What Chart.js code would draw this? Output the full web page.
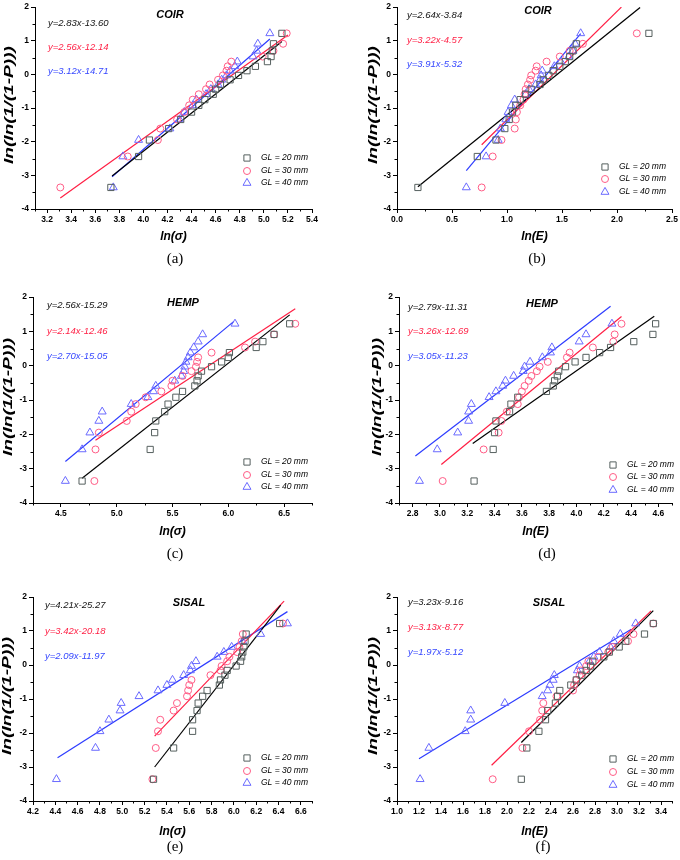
<!DOCTYPE html>
<html lang="en">
<head>
<meta charset="UTF-8">
<title>Weibull plots</title>
<script src="https://cdn.jsdelivr.net/npm/chart.js@4.4.1/dist/chart.umd.min.js"></script>
<style>
  body { margin: 0; background: #fff; }
  #wrap { position: relative; width: 680px; height: 860px; }
  canvas { position: absolute; }
  .cap { position: absolute; font-family: "Liberation Serif", "Times New Roman", serif; font-size: 15px; line-height: 18px; transform: translateX(-50%); }
</style>
</head>
<body>
<div id="wrap"></div>
<script>
// ln(ln(1/(1-P))) levels, shared by every series (20 specimens each)
const yRank = [-3.36, -2.44, -1.95, -1.61, -1.34, -1.12, -0.92, -0.75, -0.59, -0.44,
               -0.30, -0.16, -0.03, 0.11, 0.24, 0.38, 0.53, 0.70, 0.91, 1.22];
const seriesNames = ['GL = 20 mm', 'GL = 30 mm', 'GL = 40 mm'];
const yTicks = [-4, -3, -2, -1, 0, 1, 2];
const yTitle = 'ln(ln(1/(1-P)))';

// (a) COIR, ln(sigma)
const coirS20 = [3.73, 3.96, 4.05, 4.21, 4.31, 4.40, 4.46, 4.51, 4.58, 4.60, 4.64, 4.72, 4.79, 4.86, 4.93, 5.03, 5.06, 5.07, 5.08, 5.15];
const coirS30 = [3.31, 3.87, 4.12, 4.14, 4.28, 4.34, 4.38, 4.41, 4.46, 4.52, 4.55, 4.62, 4.66, 4.69, 4.70, 4.73, 4.99, 5.08, 5.16, 5.19];
const coirS40 = [3.75, 3.83, 3.96, 4.22, 4.30, 4.34, 4.41, 4.44, 4.52, 4.56, 4.62, 4.65, 4.69, 4.72, 4.76, 4.78, 4.91, 4.94, 4.95, 5.05];
const fitsA = [[[3.74, -3.02], [5.15, 0.98]], [[3.31, -3.67], [5.20, 1.17]], [[3.74, -3.04], [5.05, 1.05]]];
const eqA = ['y=2.83x-13.60', 'y=2.56x-12.14', 'y=3.12x-14.71'];
const ticksA = [3.2, 3.4, 3.6, 3.8, 4.0, 4.2, 4.4, 4.6, 4.8, 5.0, 5.2, 5.4];

// (b) COIR, ln(E)
const coirE20 = [0.19, 0.73, 0.90, 0.98, 1.02, 1.05, 1.08, 1.12, 1.17, 1.22, 1.30, 1.33, 1.38, 1.42, 1.48, 1.53, 1.57, 1.60, 1.63, 2.29];
const coirE30 = [0.77, 0.87, 0.95, 1.07, 1.08, 1.09, 1.12, 1.15, 1.16, 1.17, 1.19, 1.21, 1.22, 1.26, 1.27, 1.36, 1.48, 1.57, 1.69, 2.18];
const coirE40 = [0.63, 0.81, 0.92, 0.94, 0.99, 1.01, 1.04, 1.07, 1.17, 1.20, 1.26, 1.30, 1.31, 1.32, 1.43, 1.49, 1.56, 1.60, 1.62, 1.67];
const fitsB = [[[0.19, -3.34], [2.21, 1.99]], [[0.77, -2.09], [2.04, 2.00]], [[0.63, -2.86], [1.67, 1.21]]];
const eqB = ['y=2.64x-3.84', 'y=3.22x-4.57', 'y=3.91x-5.32'];
const ticksB = [0.0, 0.5, 1.0, 1.5, 2.0, 2.5];

// (c) HEMP, ln(sigma)
const hempS20 = [4.69, 5.30, 5.34, 5.35, 5.43, 5.46, 5.53, 5.59, 5.70, 5.72, 5.73, 5.76, 5.85, 5.94, 6.00, 6.01, 6.25, 6.31, 6.41, 6.55];
const hempS30 = [4.80, 4.81, 4.84, 5.09, 5.13, 5.17, 5.26, 5.40, 5.49, 5.50, 5.59, 5.67, 5.71, 5.72, 5.73, 5.85, 6.15, 6.24, 6.41, 6.60];
const hempS40 = [4.54, 4.69, 4.76, 4.84, 4.87, 5.13, 5.28, 5.33, 5.35, 5.52, 5.58, 5.60, 5.61, 5.62, 5.64, 5.66, 5.69, 5.73, 5.77, 6.06];
const fitsC = [[[4.69, -3.28], [6.55, 1.48]], [[4.81, -2.17], [6.60, 1.66]], [[4.54, -2.79], [6.05, 1.29]]];
const eqC = ['y=2.56x-15.29', 'y=2.14x-12.46', 'y=2.70x-15.05'];
const ticksC = [4.5, 5.0, 5.5, 6.0, 6.5];

// (d) HEMP, ln(E)
const hempE20 = [3.25, 3.39, 3.40, 3.41, 3.51, 3.52, 3.57, 3.78, 3.83, 3.84, 3.86, 3.87, 3.92, 3.99, 4.07, 4.17, 4.25, 4.42, 4.56, 4.58];
const hempE30 = [3.02, 3.32, 3.43, 3.45, 3.49, 3.57, 3.58, 3.60, 3.62, 3.65, 3.67, 3.71, 3.73, 3.79, 3.93, 3.95, 4.12, 4.27, 4.28, 4.33];
const hempE40 = [2.85, 2.98, 3.13, 3.21, 3.21, 3.23, 3.36, 3.41, 3.46, 3.48, 3.54, 3.61, 3.62, 3.66, 3.75, 3.81, 3.82, 4.02, 4.07, 4.26];
const fitsD = [[[3.24, -2.27], [4.57, 1.44]], [[3.01, -2.88], [4.33, 1.43]], [[2.82, -2.63], [4.25, 1.73]]];
const eqD = ['y=2.79x-11.31', 'y=3.26x-12.69', 'y=3.05x-11.23'];
const ticksD = [2.8, 3.0, 3.2, 3.4, 3.6, 3.8, 4.0, 4.2, 4.4, 4.6];

// (e) SISAL, ln(sigma)
const sisalS20 = [5.28, 5.46, 5.63, 5.63, 5.67, 5.68, 5.72, 5.76, 5.87, 5.88, 5.92, 5.94, 6.02, 6.06, 6.07, 6.08, 6.09, 6.10, 6.11, 6.41];
const sisalS30 = [5.27, 5.30, 5.32, 5.34, 5.46, 5.49, 5.58, 5.59, 5.60, 5.62, 5.79, 5.88, 5.89, 5.94, 5.96, 6.03, 6.05, 6.07, 6.08, 6.44];
const sisalS40 = [4.41, 4.76, 4.80, 4.88, 4.98, 4.99, 5.15, 5.32, 5.40, 5.45, 5.55, 5.61, 5.62, 5.66, 5.85, 5.91, 5.98, 6.08, 6.24, 6.48];
const fitsE = [[[5.29, -3.00], [6.42, 1.76]], [[5.29, -2.09], [6.45, 1.88]], [[4.42, -2.73], [6.48, 1.57]]];
const eqE = ['y=4.21x-25.27', 'y=3.42x-20.18', 'y=2.09x-11.97'];
const ticksE = [4.2, 4.4, 4.6, 4.8, 5.0, 5.2, 5.4, 5.6, 5.8, 6.0, 6.2, 6.4, 6.6];

// (f) SISAL, ln(E)
const sisalE20 = [2.13, 2.18, 2.29, 2.35, 2.37, 2.44, 2.46, 2.48, 2.58, 2.63, 2.68, 2.72, 2.76, 2.78, 2.88, 2.93, 3.02, 3.08, 3.25, 3.33];
const sisalE30 = [1.87, 2.14, 2.20, 2.30, 2.32, 2.33, 2.45, 2.60, 2.61, 2.63, 2.66, 2.67, 2.72, 2.74, 2.83, 2.92, 2.96, 3.10, 3.15, 3.33];
const sisalE40 = [1.21, 1.29, 1.62, 1.67, 1.67, 1.98, 2.32, 2.37, 2.39, 2.42, 2.43, 2.64, 2.66, 2.75, 2.79, 2.84, 2.94, 2.97, 3.03, 3.17];
const fitsF = [[[2.13, -2.28], [3.33, 1.60]], [[1.86, -2.95], [3.31, 1.59]], [[1.20, -2.76], [3.13, 1.05]]];
const eqF = ['y=3.23x-9.16', 'y=3.13x-8.77', 'y=1.97x-5.12'];
const ticksF = [1.0, 1.2, 1.4, 1.6, 1.8, 2.0, 2.2, 2.4, 2.6, 2.8, 3.0, 3.2, 3.4];

const FONT = '"Liberation Sans", Arial, Helvetica, sans-serif';
const markerStyles = ['rect', 'circle', 'triangle'];
const markerRadius = [4.4, 3.5, 4.6];
const markerColors = ['#56605f', '#ff5c86', '#6a6aff'];
const lineColors = ['#000000', '#ff1f44', '#2d3cff'];
const eqColors = ['#111111', '#ff1f44', '#3547ff'];

// layout of each panel (canvas-local pixels)
const panels = [
  {x: 0, y: 0, w: 340, h: 285, area: [35, 312, 5, 209], xr: [3.1, 5.4], ticks: ticksA, minor: 0.1,
   xTitle: 'ln(σ)', name: 'COIR', series: [coirS20, coirS30, coirS40], fits: fitsA, eq: eqA,
   yTitleX: 9, xTitleY: 237, eqX: 48, eqY: [23, 47, 71], nameXY: [170, 15], legX: 247, legY: [158, 171, 183], cap: '(a)', capXY: [175, 258]},
  {x: 340, y: 0, w: 340, h: 285, area: [57, 332, 5, 209], xr: [0, 2.5], ticks: ticksB, minor: 0.25,
   xTitle: 'ln(E)', name: 'COIR', series: [coirE20, coirE30, coirE40], fits: fitsB, eq: eqB,
   yTitleX: 33, xTitleY: 237, eqX: 67, eqY: [15, 40, 64], nameXY: [198, 11], legX: 265, legY: [167, 179, 192], cap: '(b)', capXY: [197, 258]},
  {x: 0, y: 285, w: 340, h: 285, area: [33, 312, 12, 218], xr: [4.25, 6.75], ticks: ticksC, minor: 0.25,
   xTitle: 'ln(σ)', name: 'HEMP', series: [hempS20, hempS30, hempS40], fits: fitsC, eq: eqC,
   yTitleX: 8, xTitleY: 247, eqX: 47, eqY: [20, 46, 71], nameXY: [183, 18], legX: 247, legY: [177, 190, 202], cap: '(c)', capXY: [175, 268]},
  {x: 340, y: 285, w: 340, h: 285, area: [59, 332, 12, 218], xr: [2.7, 4.7], ticks: ticksD, minor: 0.1,
   xTitle: 'ln(E)', name: 'HEMP', series: [hempE20, hempE30, hempE40], fits: fitsD, eq: eqD,
   yTitleX: 37, xTitleY: 247, eqX: 68, eqY: [22, 46, 71], nameXY: [202, 19], legX: 273, legY: [180, 192, 205], cap: '(d)', capXY: [207, 268]},
  {x: 0, y: 570, w: 340, h: 290, area: [33, 312, 27, 231], xr: [4.2, 6.7], ticks: ticksE, minor: 0.1,
   xTitle: 'ln(σ)', name: 'SISAL', series: [sisalS20, sisalS30, sisalS40], fits: fitsE, eq: eqE,
   yTitleX: 7, xTitleY: 262, eqX: 45, eqY: [35, 61, 86], nameXY: [189, 33], legX: 247, legY: [188, 201, 213], cap: '(e)', capXY: [175, 276]},
  {x: 340, y: 570, w: 340, h: 290, area: [57, 332, 27, 231], xr: [1.0, 3.5], ticks: ticksF, minor: 0.1,
   xTitle: 'ln(E)', name: 'SISAL', series: [sisalE20, sisalE30, sisalE40], fits: fitsF, eq: eqF,
   yTitleX: 33, xTitleY: 262, eqX: 68, eqY: [32, 57, 82], nameXY: [209, 33], legX: 273, legY: [189, 202, 215], cap: '(f)', capXY: [203, 276]}
];

function drawMarker(ctx, style, r, x, y) {
  ctx.beginPath();
  if (style === 'rect') {
    const s = r * Math.SQRT1_2;
    ctx.rect(x - s, y - s, 2 * s, 2 * s);
  } else if (style === 'circle') {
    ctx.arc(x, y, r, 0, Math.PI * 2);
  } else {
    for (let k = 0; k < 3; k++) {
      const a = k * 2 * Math.PI / 3;
      const px = x + Math.sin(a) * r, py = y - Math.cos(a) * r;
      if (k === 0) ctx.moveTo(px, py); else ctx.lineTo(px, py);
    }
    ctx.closePath();
  }
  ctx.stroke();
}

// y title, equations, fibre name, legend and minor ticks
const overlay = {
  id: 'overlay',
  afterDraw(chart, args, p) {
    const ctx = chart.ctx;
    const xs = chart.scales.x, ys = chart.scales.y;
    const a = chart.chartArea;
    ctx.save();
    ctx.strokeStyle = '#000';
    ctx.lineWidth = 1;
    ctx.beginPath();
    for (let k = Math.ceil(p.xr[0] / p.minor - 1e-6); k * p.minor <= p.xr[1] + 1e-9; k++) {
      const v = k * p.minor;
      if (p.ticks.some(t => Math.abs(t - v) < 1e-6)) continue;
      const px = Math.round(xs.getPixelForValue(v)) + 0.5;
      ctx.moveTo(px, a.bottom);
      ctx.lineTo(px, a.bottom + 2.5);
    }
    for (let k = -8; k <= 4; k++) {
      if (k % 2 === 0) continue;
      const py = Math.round(ys.getPixelForValue(k * 0.5)) + 0.5;
      ctx.moveTo(a.left, py);
      ctx.lineTo(a.left - 2.5, py);
    }
    ctx.stroke();

    // y axis title, wide as in the original figure
    ctx.save();
    ctx.fillStyle = '#000';
    ctx.font = 'italic bold 13px ' + FONT;
    ctx.textAlign = 'center';
    ctx.textBaseline = 'middle';
    ctx.translate(p.yTitleX, (a.top + a.bottom) / 2 - 3);
    ctx.rotate(-Math.PI / 2);
    ctx.scale(118 / ctx.measureText(yTitle).width, 1);
    ctx.fillText(yTitle, 0, 0);
    ctx.restore();

    ctx.textBaseline = 'middle';
    ctx.textAlign = 'left';
    ctx.font = 'italic 9.5px ' + FONT;
    p.eq.forEach((t, i) => {
      ctx.fillStyle = eqColors[i];
      ctx.fillText(t, p.eqX, p.eqY[i]);
    });
    ctx.fillStyle = '#000';
    ctx.font = 'italic bold 11px ' + FONT;
    ctx.textAlign = 'center';
    ctx.fillText(p.name, p.nameXY[0], p.nameXY[1]);

    ctx.textAlign = 'left';
    ctx.font = 'italic 8.5px ' + FONT;
    seriesNames.forEach((t, i) => {
      ctx.strokeStyle = markerColors[i];
      drawMarker(ctx, markerStyles[i], markerRadius[i], p.legX, p.legY[i]);
      ctx.fillStyle = '#000';
      ctx.fillText(t, p.legX + 14, p.legY[i]);
    });
    ctx.restore();
  }
};

const wrap = document.getElementById('wrap');
panels.forEach(p => {
  const cv = document.createElement('canvas');
  cv.width = p.w; cv.height = p.h;
  cv.style.left = p.x + 'px'; cv.style.top = p.y + 'px';
  cv.style.width = p.w + 'px'; cv.style.height = p.h + 'px';
  wrap.appendChild(cv);

  const cap = document.createElement('div');
  cap.className = 'cap';
  cap.textContent = p.cap;
  cap.style.left = (p.x + p.capXY[0]) + 'px';
  cap.style.top = (p.y + p.capXY[1] - 9) + 'px';
  wrap.appendChild(cap);

  const [L, R, T, B] = p.area;
  const titleLH = 12 * 1.2;
  const datasets = [];
  p.series.forEach((xsArr, i) => {
    datasets.push({
      label: seriesNames[i],
      data: xsArr.map((v, k) => ({x: v, y: yRank[k]})),
      pointStyle: markerStyles[i],
      pointRadius: markerRadius[i],
      pointBorderWidth: 1,
      pointBackgroundColor: 'rgba(0,0,0,0)',
      pointBorderColor: markerColors[i],
      showLine: false
    });
  });
  p.fits.forEach((f, i) => {
    datasets.push({
      label: 'fit ' + seriesNames[i],
      data: f.map(pt => ({x: pt[0], y: pt[1]})),
      showLine: true,
      pointRadius: 0,
      borderColor: lineColors[i],
      borderWidth: 1.2,
      fill: false
    });
  });

  new Chart(cv, {
    type: 'scatter',
    data: {datasets},
    plugins: [overlay],
    options: {
      responsive: false,
      animation: false,
      devicePixelRatio: 1,
      layout: {padding: {left: 0, right: p.w - R, top: T, bottom: 0}},
      plugins: {
        legend: {display: false},
        tooltip: {enabled: false},
        overlay: p
      },
      scales: {
        x: {
          type: 'linear',
          min: p.xr[0], max: p.xr[1],
          afterBuildTicks: s => { s.ticks = p.ticks.map(v => ({value: v})); },
          afterFit: s => { s.height = p.h - B; },
          border: {display: true, color: '#000', width: 1},
          grid: {drawOnChartArea: false, drawTicks: true, tickLength: 4, color: '#000'},
          ticks: {
            color: '#000', padding: 2, maxRotation: 0, autoSkip: false,
            font: {family: FONT, size: 8.5, weight: 'bold'},
            callback: v => Number(v).toFixed(1)
          },
          title: {
            display: true, text: p.xTitle, color: '#000',
            font: {family: FONT, size: 12, weight: 'bold', style: 'italic'},
            padding: {top: 0, bottom: p.h - p.xTitleY - titleLH / 2}
          }
        },
        y: {
          type: 'linear',
          min: -4, max: 2,
          afterBuildTicks: s => { s.ticks = yTicks.map(v => ({value: v})); },
          afterFit: s => { s.width = L; },
          border: {display: true, color: '#000', width: 1},
          grid: {drawOnChartArea: false, drawTicks: true, tickLength: 4, color: '#000'},
          ticks: {
            color: '#000', padding: 2, autoSkip: false,
            font: {family: FONT, size: 8.5, weight: 'bold'},
            callback: v => String(v)
          },
          title: {display: false, text: yTitle}
        }
      }
    }
  });
});
</script>
</body>
</html>
